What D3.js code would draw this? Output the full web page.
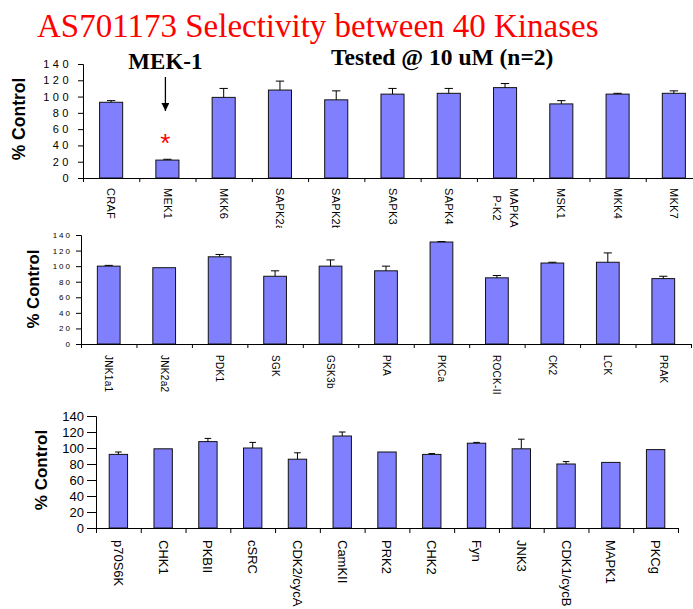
<!DOCTYPE html>
<html>
<head>
<meta charset="utf-8">
<script src="https://cdn.jsdelivr.net/npm/d3@7"></script>
<style>
  body { margin: 0; background: #fff; }
  svg { display: block; }
</style>
</head>
<body>
<svg id="chart"></svg>
<script>
// kinase panels (values = % control, errs = upper error bar length)
const topNames = ["CRAF", "MEK1", "MKK6", "SAPK2a", "SAPK2b", "SAPK3", "SAPK4", "MAPKA\nP-K2", "MSK1", "MKK4", "MKK7"];
const topValues = [93, 22, 99, 108, 96, 103, 104, 111, 91, 103, 104];
const topErrs = [2, 1, 11, 11, 11, 7, 6, 5, 4, 1, 3];

const midNames = ["JNK1a1", "JNK2a2", "PDK1", "SGK", "GSK3b", "PKA", "PKCa", "ROCK-II", "CK2", "LCK", "PRAK"];
const midValues = [100, 98, 112, 87, 100, 94, 131, 85, 104, 105, 84];
const midErrs = [1, 0, 3, 7, 8, 6, 0.5, 3, 1, 12, 3];

const botNames = ["p70S6K", "CHK1", "PKBII", "cSRC", "CDK2/cycA", "CamKII", "PRK2", "CHK2", "Fyn", "JNK3", "CDK1/cycB", "MAPK1", "PKCg"];
const botValues = [92, 99, 108, 100, 86, 115, 95, 92, 106, 99, 80, 82, 98];
const botErrs = [3, 0, 4, 7, 8, 5, 0, 1, 1, 12, 3, 0, 0];

const yTicks = [0, 20, 40, 60, 80, 100, 120, 140];

const width = 693;
const height = 609;
const barColor = "#8080ff";

const svg = d3.select("#chart")
  .attr("width", width)
  .attr("height", height);

// layout of the three panels
const panels = [
  { names: topNames, values: topValues, errs: topErrs,
    x0: 83, x1: 702, yTop: 64, yBot: 178,
    tickFont: 11, tickSpace: 3.5, tickLen: 5, tickPad: 6, xTick: 4,
    labelFont: 11, labelSpace: 0.3, labelGap: 10, labelClip: 228,
    titleX: 19, titleY: 119, titleFont: 17.5 },
  { names: midNames, values: midValues, errs: midErrs,
    x0: 81, x1: 691, yTop: 235, yBot: 344,
    tickFont: 8, tickSpace: 2, tickLen: 5, tickPad: 4, xTick: 4,
    labelFont: 10, labelSpace: 0.3, labelGap: 11, labelClip: 402,
    titleX: 33, titleY: 289, titleFont: 16.7 },
  { names: botNames, values: botValues, errs: botErrs,
    x0: 96, x1: 678, yTop: 416, yBot: 528,
    tickFont: 13, tickSpace: 0, tickLen: 9, tickPad: 3, xTick: 5,
    labelFont: 13, labelSpace: 0, labelGap: 12, labelClip: 609,
    titleX: 41, titleY: 470, titleFont: 17 }
];

panels.forEach((p, pi) => {
  const g = svg.append("g");

  const x = d3.scaleBand()
    .domain(p.names)
    .range([p.x0, p.x1])
    .paddingInner(0.59)
    .paddingOuter(0.295);

  const y = d3.scaleLinear().domain([0, 140]).range([p.yBot, p.yTop]);

  // bars
  g.selectAll("rect.bar")
    .data(p.names)
    .enter()
    .append("rect")
    .attr("class", "bar")
    .attr("x", d => x(d))
    .attr("y", (d, i) => y(p.values[i]))
    .attr("width", x.bandwidth())
    .attr("height", (d, i) => p.yBot - y(p.values[i]))
    .attr("fill", barColor)
    .attr("stroke", "#111")
    .attr("stroke-width", 1);

  // error bars (upper only)
  const cap = x.bandwidth() * 0.36;
  p.names.forEach((d, i) => {
    if (!p.errs[i]) return;
    const cx = x(d) + x.bandwidth() / 2;
    g.append("line")
      .attr("x1", cx).attr("x2", cx)
      .attr("y1", y(p.values[i])).attr("y2", y(p.values[i] + p.errs[i]))
      .attr("stroke", "#000");
    g.append("line")
      .attr("x1", cx - cap / 2).attr("x2", cx + cap / 2)
      .attr("y1", y(p.values[i] + p.errs[i])).attr("y2", y(p.values[i] + p.errs[i]))
      .attr("stroke", "#000");
  });

  // y axis
  const yAxis = g.append("g")
    .attr("transform", `translate(${p.x0},0)`)
    .call(d3.axisLeft(y).tickValues(yTicks).tickSize(p.tickLen).tickSizeOuter(p.tickLen).tickPadding(p.tickPad));
  yAxis.selectAll("text")
    .attr("font-family", "Liberation Sans, Arial, sans-serif")
    .attr("font-size", p.tickFont)
    .attr("letter-spacing", p.tickSpace)
    .attr("fill", "#000");
  yAxis.selectAll("line, path").attr("stroke", "#000");

  // x axis: ticks between categories
  const xi = d3.scaleLinear().domain([0, p.names.length]).range([p.x0, p.x1]);
  const xAxis = g.append("g")
    .attr("transform", `translate(0,${p.yBot})`)
    .call(d3.axisBottom(xi).tickValues(d3.range(p.names.length + 1)).tickSize(p.xTick).tickSizeOuter(0).tickFormat(""));
  xAxis.selectAll("line, path").attr("stroke", "#000");

  // rotated category labels, clipped like the original
  const clipId = "clip" + pi;
  svg.append("clipPath").attr("id", clipId)
    .append("rect").attr("x", 0).attr("y", p.yBot).attr("width", width).attr("height", p.labelClip - p.yBot);
  const lg = svg.append("g").attr("clip-path", `url(#${clipId})`);
  p.names.forEach(d => {
    const lines = d.split("\n");
    const cx = x(d) + x.bandwidth() / 2;
    const ty = p.yBot + p.labelGap;
    const texts = lines.map((line, li) => {
      const off = (li - (lines.length - 1) / 2) * -17;
      return lg.append("text")
        .attr("transform", `translate(${cx + off},${ty}) rotate(90)`)
        .attr("dy", "0.35em")
        .attr("font-family", "Liberation Sans, Arial, sans-serif")
        .attr("font-size", p.labelFont)
        .attr("letter-spacing", p.labelSpace)
        .text(line);
    });
    if (lines.length > 1) {
      const lens = texts.map(t => t.node().getComputedTextLength());
      const maxLen = d3.max(lens);
      texts.forEach((t, li) => {
        const off = (li - (lines.length - 1) / 2) * -17;
        t.attr("transform", `translate(${cx + off},${ty + (maxLen - lens[li]) / 2}) rotate(90)`);
      });
    }
  });

  // y title
  g.append("text")
    .attr("transform", `translate(${p.titleX},${p.titleY}) rotate(-90)`)
    .attr("text-anchor", "middle")
    .attr("dy", "0.35em")
    .attr("font-family", "Liberation Sans, Arial, sans-serif")
    .attr("font-weight", "bold")
    .attr("font-size", p.titleFont)
    .text("% Control");

  p.x = x;
  p.y = y;
});

// titles and MEK-1 callout
svg.append("text")
  .attr("x", 37).attr("y", 37)
  .attr("font-family", "Liberation Serif, Times New Roman, serif")
  .attr("font-size", 33)
  .attr("fill", "#ff0000")
  .text("AS701173 Selectivity between 40 Kinases");

svg.append("text")
  .attr("x", 331).attr("y", 65)
  .attr("font-family", "Liberation Serif, Times New Roman, serif")
  .attr("font-weight", "bold")
  .attr("font-size", 23.5)
  .text("Tested @ 10 uM (n=2)");

const topPanel = panels[0];
const mekX = topPanel.x("MEK1") + topPanel.x.bandwidth() / 2 - 2;

svg.append("text")
  .attr("x", mekX).attr("y", 69)
  .attr("text-anchor", "middle")
  .attr("font-family", "Liberation Serif, Times New Roman, serif")
  .attr("font-weight", "bold")
  .attr("font-size", 23)
  .text("MEK-1");

svg.append("defs").append("marker")
  .attr("id", "arrow")
  .attr("viewBox", "0 0 10 10")
  .attr("refX", 10).attr("refY", 5)
  .attr("markerWidth", 8).attr("markerHeight", 8)
  .attr("markerUnits", "userSpaceOnUse")
  .attr("orient", "auto")
  .append("path")
  .attr("d", "M0,0 L10,5 L0,10 Z")
  .attr("fill", "#000");

svg.append("line")
  .attr("x1", mekX).attr("x2", mekX)
  .attr("y1", 77).attr("y2", 111)
  .attr("stroke", "#000")
  .attr("stroke-width", 1.3)
  .attr("marker-end", "url(#arrow)");

svg.append("text")
  .attr("x", mekX).attr("y", 152)
  .attr("text-anchor", "middle")
  .attr("font-family", "Liberation Sans, Arial, sans-serif")
  .attr("font-size", 26)
  .attr("fill", "#ff0000")
  .text("*");
</script>
</body>
</html>
